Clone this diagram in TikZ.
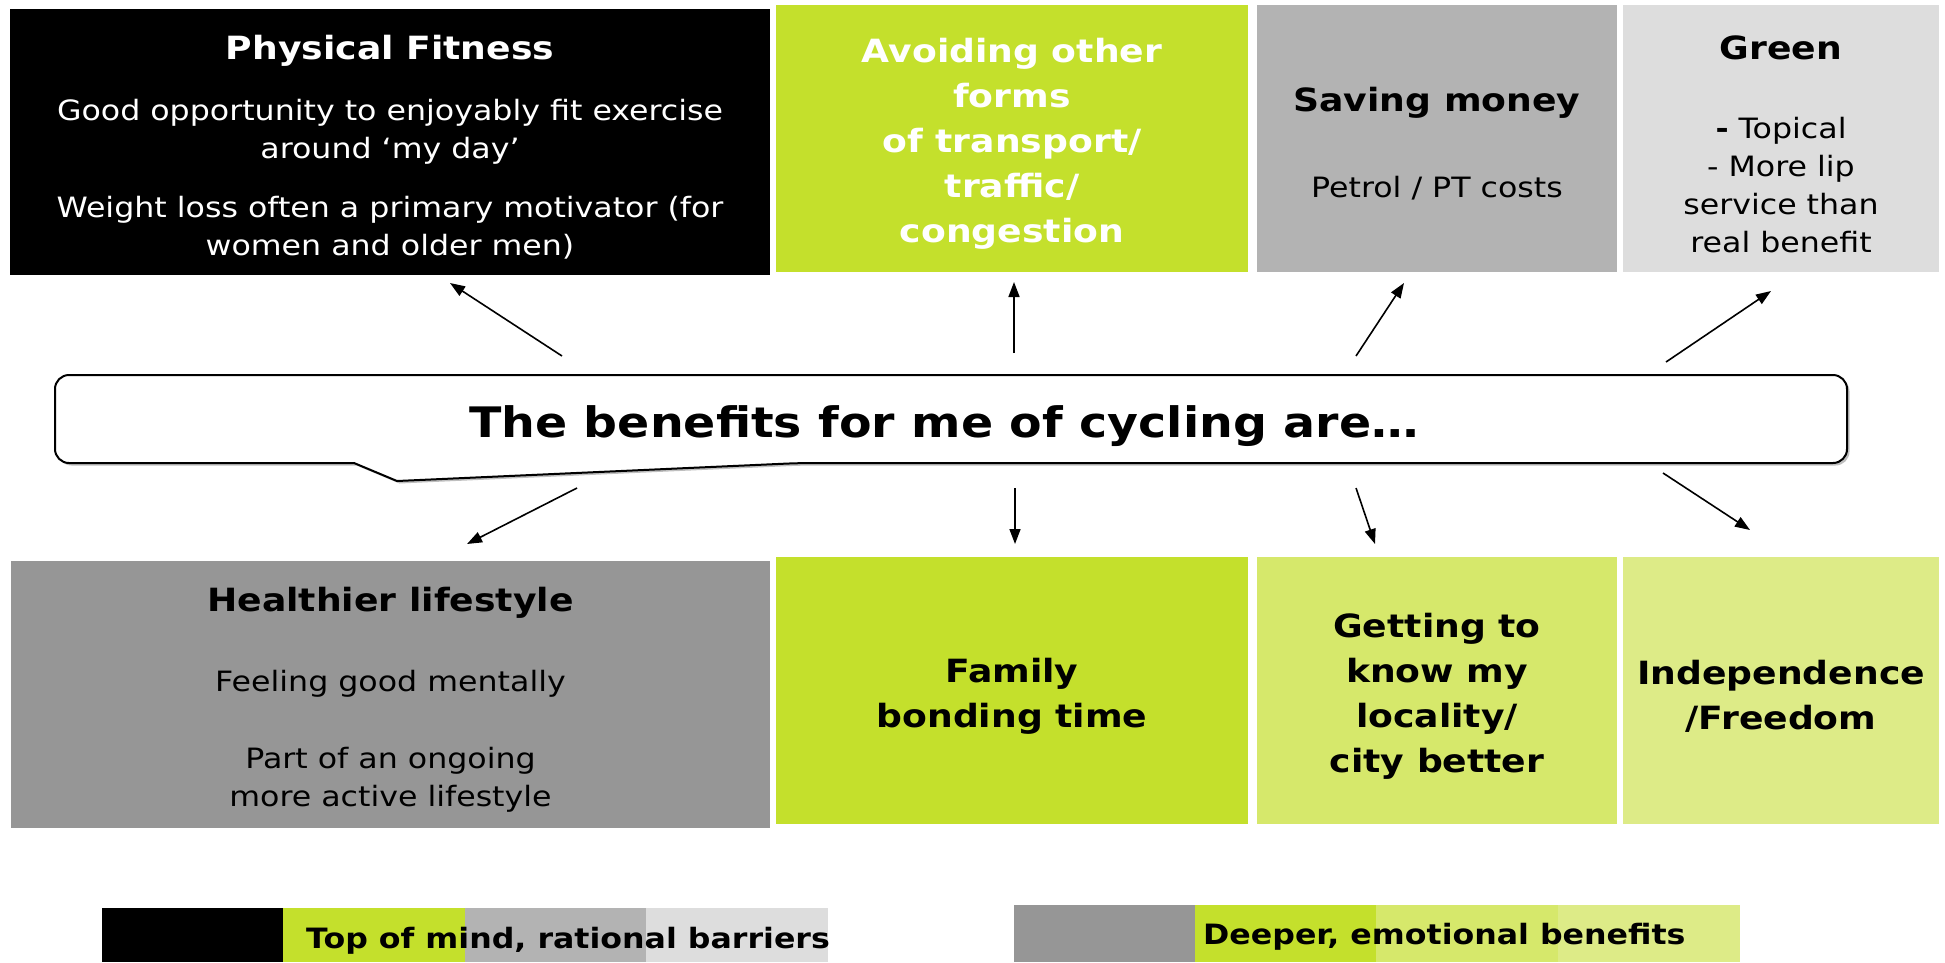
\documentclass[tikz,border=0pt]{standalone}
\usepackage{fontspec}
\setmainfont{DejaVu Sans}[FakeStretch=1.13]
\usetikzlibrary{arrows.meta}
\definecolor{BenefitBlack}{RGB}{0,0,0}
\definecolor{BenefitLime}{RGB}{196,224,44}
\definecolor{BenefitGrey}{RGB}{179,179,179}
\definecolor{BenefitLightGrey}{RGB}{221,221,221}
\definecolor{BenefitDeepGrey}{RGB}{150,150,150}
\definecolor{BenefitPaleLime}{RGB}{214,232,107}
\definecolor{BenefitPalerLime}{RGB}{221,235,135}
\newcommand{\headfont}{\fontsize{32}{45}\selectfont\bfseries}
\newcommand{\toplift}{\rule{0pt}{35pt}}

\begin{document}
\begin{tikzpicture}[x=1pt,y=-1pt,
  box/.style n args={3}{rectangle,fill=#1,inner sep=0pt,align=center,minimum width=#2,minimum height=#3,font=\fontsize{28}{38}\selectfont},
  headbox/.style={font=\headfont},
  arr/.style={-{Triangle[length=15pt,width=11pt]},line width=1.6pt}]
\useasboundingbox (0,0) rectangle (1945,962);
% top row: rational benefits
\node[box={BenefitBlack}{760pt}{266pt},text=white](fitness) at(390,142) {%
  \toplift{\headfont Physical Fitness}\\[23pt]
  Good opportunity to enjoyably fit exercise\\
  around ‘my day’\\[21pt]
  Weight loss often a primary motivator (for\\
  women and older men)};
\node[box={BenefitLime}{472pt}{267pt},headbox,text=white](avoiding) at(1012,138.5) {%
  \toplift Avoiding other\\forms\\of transport/\\traffic/\\congestion};
\node[box={BenefitGrey}{360pt}{267pt}](money) at(1437,138.5) {%
  \toplift{\headfont Saving money}\\[48pt]
  Petrol / PT costs};
\node[box={BenefitLightGrey}{316pt}{267pt}](green) at(1781,138.5) {%
  \toplift{\headfont Green}\\[41pt]
  {\bfseries -} Topical\\
  - More lip\\
  service than\\
  real benefit};
% bottom row: emotional benefits
\node[box={BenefitDeepGrey}{759pt}{267pt}](healthier) at(390.5,694.5) {%
  \toplift{\headfont Healthier lifestyle}\\[42pt]
  Feeling good mentally\\[39pt]
  Part of an ongoing\\
  more active lifestyle};
\node[box={BenefitLime}{472pt}{267pt},headbox](family) at(1012,690.5) {%
  \toplift Family\\bonding time};
\node[box={BenefitPaleLime}{360pt}{267pt},headbox](locality) at(1437,690.5) {%
  \toplift Getting to\\know my\\locality/\\city better};
\node[box={BenefitPalerLime}{316pt}{267pt},headbox](freedom) at(1781,690.5) {%
  \toplift Independence\\/Freedom};
% speech balloon
\begin{scope}[shift={(2.5,2.5)}]
\fill[black!25] (200,463) [rounded corners=14pt] -- (55,463) -- (55,375) -- (1847,375) -- (1847,463) -- (800,463) [sharp corners] -- (397,481) -- (354,463) -- cycle;
\end{scope}
\draw[fill=white,line width=2pt] (200,463) [rounded corners=14pt] -- (55,463) -- (55,375) -- (1847,375) -- (1847,463) -- (800,463) [sharp corners] -- (397,481) -- (354,463) -- cycle;
\node[anchor=base,font=\fontsize{42}{50}\selectfont\bfseries](benefits) at(944,437) {The benefits for me of cycling are…};
% arrows out of the balloon
\foreach \i/\sx/\sy/\ex/\ey in {1/562/356/450/283,2/1014/353/1014/282,3/1356/356/1404/283,4/1666/362/1771/291,%
  5/577/488/467/544,6/1015/488/1015/544,7/1356/488/1375/544,8/1663/473/1750/530} {
  \coordinate (from\i) at (\sx,\sy);
  \coordinate (to\i) at (\ex,\ey);
  \draw[arr] (from\i) -- (to\i);
}
% legend
\foreach \x/\c in {102/BenefitBlack,283/BenefitLime,465/BenefitGrey,646/BenefitLightGrey} {
  \fill[\c] (\x,908) rectangle +(182,54);
}
\foreach \x/\c in {1014/BenefitDeepGrey,1195/BenefitLime,1376/BenefitPaleLime,1558/BenefitPalerLime} {
  \fill[\c] (\x,905) rectangle +(182,57);
}
\node[anchor=base west,inner sep=0pt,font=\fontsize{28}{34}\selectfont\bfseries](rational) at(306,948) {Top of mind, rational barriers};
\node[anchor=base west,inner sep=0pt,font=\fontsize{28}{34}\selectfont\bfseries](emotional) at(1203,944) {Deeper, emotional benefits};
\end{tikzpicture}
\end{document}
